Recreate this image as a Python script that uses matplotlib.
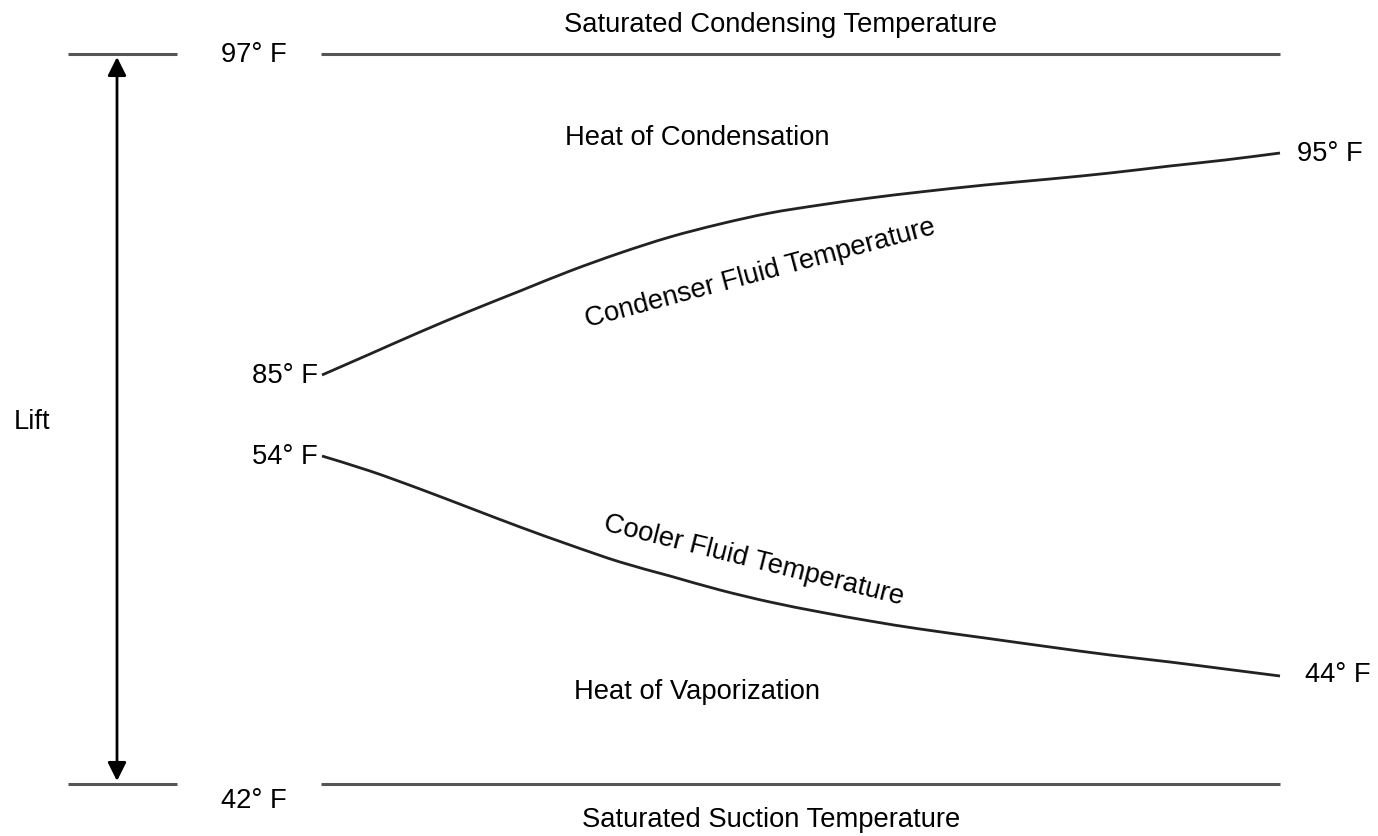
import matplotlib.pyplot as plt
from matplotlib.path import Path
from matplotlib.patches import PathPatch

plt.rcParams['font.family'] = ['Liberation Sans', 'DejaVu Sans']

# diagram is schematic: positions are along the heat exchanger (x) and drawing height (y)
line_labels = ['97° F', '42° F']
line_names = ['Saturated Condensing Temperature', 'Saturated Suction Temperature']
line_y = [55, 785]

# condenser fluid curve (85° F -> 95° F)
cond_x = [322, 370, 420, 470, 520, 570, 620, 670, 720, 770, 820, 870, 920, 985, 1050, 1110, 1170, 1225, 1280]
cond_y = [376, 355, 333, 312, 292, 272, 254, 238, 225, 214, 206, 199, 193, 186, 180, 174, 167, 161, 154]

# cooler fluid curve (54° F -> 44° F)
cool_x = [322, 370, 420, 470, 520, 570, 620, 670, 720, 770, 820, 870, 920, 985, 1050, 1110, 1170, 1225, 1280]
cool_y = [457, 472, 490, 509, 528, 546, 563, 577, 591, 603, 613, 622, 630, 639, 648, 656, 663, 670, 677]


def smooth_path(xs, ys):
    # Catmull-Rom through the points, drawn as cubic Bezier segments
    pts = list(zip(xs, ys))
    verts = [pts[0]]
    codes = [Path.MOVETO]
    for i in range(len(pts) - 1):
        p0 = pts[i - 1] if i > 0 else pts[i]
        p1 = pts[i]
        p2 = pts[i + 1]
        p3 = pts[i + 2] if i + 2 < len(pts) else pts[i + 1]
        c1 = (p1[0] + (p2[0] - p0[0]) / 6, p1[1] + (p2[1] - p0[1]) / 6)
        c2 = (p2[0] - (p3[0] - p1[0]) / 6, p2[1] - (p3[1] - p1[1]) / 6)
        verts += [c1, c2, p2]
        codes += [Path.CURVE4] * 3
    return Path(verts, codes)


fig = plt.figure(figsize=(13.78, 8.37), dpi=100)
ax = fig.add_axes([0, 0, 1, 1])
ax.set_xlim(0, 1378)
ax.set_ylim(837, 0)
ax.axis('off')

fs = 19.7
gray = '#555555'

# saturated temperature lines
for y in line_y:
    ax.plot([68, 177], [y, y], color=gray, lw=2.2, solid_capstyle='butt')
    ax.plot([321, 1280], [y, y], color=gray, lw=2.2, solid_capstyle='butt')

ax.text(254, line_y[0], line_labels[0], fontsize=fs, ha='center', va='center')
ax.text(254, line_y[1] + 16, line_labels[1], fontsize=fs, ha='center', va='center')
ax.text(781, 25, line_names[0], fontsize=fs, ha='center', va='center')
ax.text(771, 820, line_names[1], fontsize=fs, ha='center', va='center')

# lift arrow
ax.annotate('', xy=(117, line_y[0] + 3), xytext=(117, line_y[1] - 3),
            arrowprops=dict(arrowstyle='<|-|>', color='black', lw=2,
                            mutation_scale=28, shrinkA=0, shrinkB=0))
ax.text(14, 422, 'Lift', fontsize=fs, ha='left', va='center')

# fluid curves
ax.add_patch(PathPatch(smooth_path(cond_x, cond_y), fill=False, edgecolor='#222222', lw=2))
ax.add_patch(PathPatch(smooth_path(cool_x, cool_y), fill=False, edgecolor='#222222', lw=2))

ax.text(cond_x[0] - 4, cond_y[0], '85° F', fontsize=fs, ha='right', va='center')
ax.text(cond_x[-1] + 17, cond_y[-1], '95° F', fontsize=fs, ha='left', va='center')
ax.text(cool_x[0] - 4, cool_y[0], '54° F', fontsize=fs, ha='right', va='center')
ax.text(cool_x[-1] + 25, cool_y[-1] - 2, '44° F', fontsize=fs, ha='left', va='center')

ax.text(760, 274, 'Condenser Fluid Temperature', fontsize=fs, ha='center', va='center',
        rotation=15, rotation_mode='anchor')
ax.text(754, 561, 'Cooler Fluid Temperature', fontsize=fs, ha='center', va='center',
        rotation=-14, rotation_mode='anchor')

ax.text(697, 138, 'Heat of Condensation', fontsize=fs, ha='center', va='center')
ax.text(697, 692, 'Heat of Vaporization', fontsize=fs, ha='center', va='center')

plt.savefig('out.png', dpi=100)
